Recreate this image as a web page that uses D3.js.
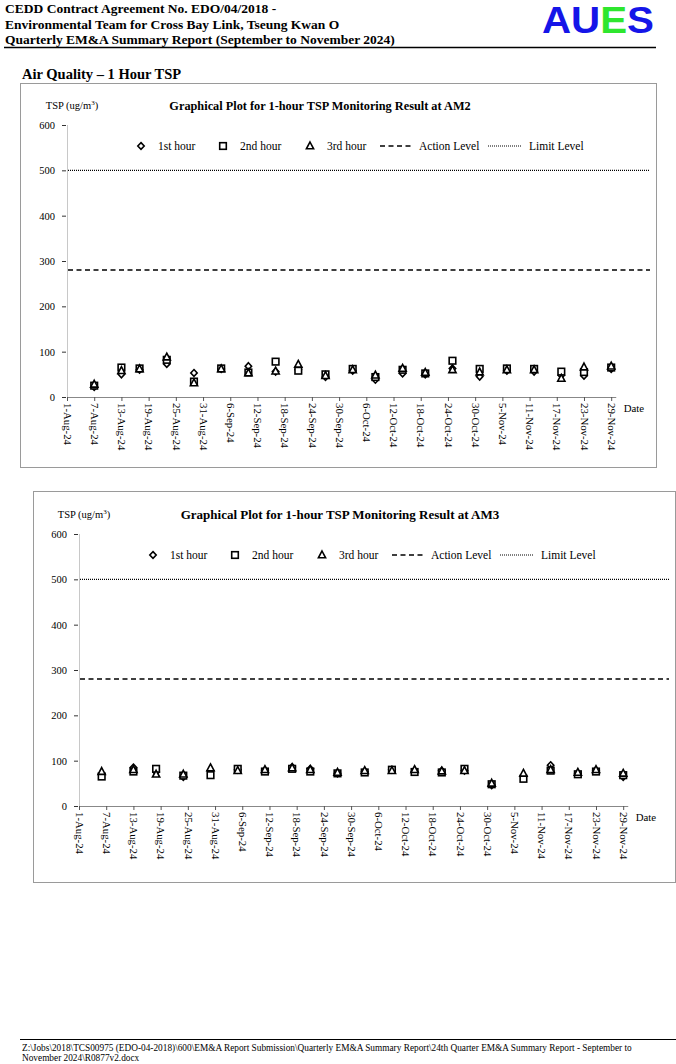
<!DOCTYPE html>
<html>
<head>
<meta charset="utf-8">
<script src="https://cdn.jsdelivr.net/npm/d3@7/dist/d3.min.js"></script>
<style>
  body { margin: 0; background: #fff; }
  svg { display: block; font-family: "Liberation Serif", "Times New Roman", serif; }
</style>
</head>
<body>
<div id="render"></div>
<script>
const parse = d3.timeParse('%d-%b-%Y');

// sampling dates
const datesAM2 = ['7-Aug-2024','13-Aug-2024','17-Aug-2024','23-Aug-2024','29-Aug-2024','4-Sep-2024','10-Sep-2024',
  '16-Sep-2024','21-Sep-2024','27-Sep-2024','3-Oct-2024','8-Oct-2024','14-Oct-2024','19-Oct-2024','25-Oct-2024',
  '31-Oct-2024','6-Nov-2024','12-Nov-2024','18-Nov-2024','23-Nov-2024','29-Nov-2024'];
const datesAM3 = ['6-Aug-2024','13-Aug-2024','18-Aug-2024','24-Aug-2024','30-Aug-2024','5-Sep-2024','11-Sep-2024',
  '17-Sep-2024','21-Sep-2024','27-Sep-2024','3-Oct-2024','9-Oct-2024','14-Oct-2024','20-Oct-2024','25-Oct-2024',
  '31-Oct-2024','7-Nov-2024','13-Nov-2024','19-Nov-2024','23-Nov-2024','29-Nov-2024'];

// AM2, ug/m3
const am2Hour1 = [22, 50, 60, 73, 53, 62, 68, 56, 60, 44, 58, 38, 52, 50, 63, 45, 58, 56, 48, 47, 62];
const am2Hour2 = [25, 65, 63, 82, 34, 63, 54, 78, 58, 50, 62, 44, 60, 52, 80, 62, 63, 62, 56, 55, 65];
const am2Hour3 = [28, 58, 62, 88, 31, 62, 53, 57, 72, 47, 60, 48, 63, 54, 60, 55, 60, 60, 41, 66, 68];

// AM3, ug/m3
const am3Hour1 = [70, 85, 75, 64, 78, 80, 78, 86, 82, 72, 76, 80, 76, 78, 78, 46, 65, 90, 72, 78, 64];
const am3Hour2 = [65, 76, 82, 67, 68, 82, 76, 82, 76, 72, 74, 80, 75, 74, 82, 48, 60, 78, 70, 76, 68];
const am3Hour3 = [76, 80, 70, 70, 84, 78, 80, 84, 80, 74, 78, 78, 80, 77, 78, 50, 72, 80, 74, 80, 72];

const actionLevel = 280;
const limitLevel = 500;
const yTicks = [0, 100, 200, 300, 400, 500, 600];
const legendLabels = ['1st hour', '2nd hour', '3rd hour', 'Action Level', 'Limit Level'];

const W = 676, H = 1064;
const svg = d3.select('#render').append('svg').attr('width', W).attr('height', H);

// ---- page header ----
const hdr = svg.append('g').attr('font-weight', 'bold').attr('font-size', 13.5).attr('fill', '#000');
['CEDD Contract Agreement No. EDO/04/2018 -',
 'Environmental Team for Cross Bay Link, Tseung Kwan O',
 'Quarterly EM&A Summary Report (September to November 2024)'].forEach((t, i)=>{
  hdr.append('text').attr('x', 5).attr('y', 13 + i * 15.5).text(t);
});
const logo = svg.append('text').attr('x', 542).attr('y', 33)
  .attr('font-family', '"Liberation Sans", Arial, sans-serif').attr('font-weight', 'bold')
  .attr('font-size', 36).attr('textLength', 112).attr('lengthAdjust', 'spacingAndGlyphs');
logo.append('tspan').attr('fill', '#1515e8').text('AU');
logo.append('tspan').attr('fill', '#2ee62e').text('E');
logo.append('tspan').attr('fill', '#1515e8').text('S');
svg.append('line').attr('x1', 4).attr('x2', 656).attr('y1', 47.5).attr('y2', 47.5)
  .attr('stroke', '#000').attr('stroke-width', 1.5);

svg.append('text').attr('x', 22).attr('y', 79).attr('font-weight', 'bold').attr('font-size', 14.5)
  .text('Air Quality \u2013 1 Hour TSP');

// ---- footer ----
svg.append('line').attr('x1', 20).attr('x2', 676).attr('y1', 1039.5).attr('y2', 1039.5)
  .attr('stroke', '#000').attr('stroke-width', 1);
const ftr = svg.append('g').attr('font-size', 9.3);
ftr.append('text').attr('x', 22).attr('y', 1051)
  .text('Z:\\Jobs\\2018\\TCS00975 (EDO-04-2018)\\600\\EM&A Report Submission\\Quarterly EM&A Summary Report\\24th Quarter EM&A Summary Report - September to');
ftr.append('text').attr('x', 22).attr('y', 1061).text('November 2024\\R0877v2.docx');

const symbols = {
  diamond: (g, x, y)=>g.append('path').attr('d', `M${x},${y-3.4}L${x+3.2},${y}L${x},${y+3.4}L${x-3.2},${y}Z`),
  square: (g, x, y)=>g.append('rect').attr('x', x-3.3).attr('y', y-3.3).attr('width', 6.6).attr('height', 6.6),
  triangle: (g, x, y)=>g.append('path').attr('d', `M${x},${y-4}L${x+3.6},${y+2.8}L${x-3.6},${y+2.8}Z`),
};

const drawChart = ({box, origin, title, titleX, titleSize, dates, series})=>{
  const g = svg.append('g');
  g.append('rect').attr('x', box.x + 0.5).attr('y', box.y + 0.5).attr('width', box.w).attr('height', box.h)
    .attr('fill', '#fff').attr('stroke', '#9a9a9a').attr('stroke-width', 1);

  const x = d3.scaleTime()
    .domain([parse('1-Aug-2024'), parse('30-Nov-2024')])
    .range([origin.x, origin.x + 121 * 4.535]);
  const y = d3.scaleLinear().domain([0, 600]).range([origin.y, origin.y - 272]);

  g.append('text').attr('x', origin.x + 5).attr('y', origin.y - 288).attr('font-size', 10.5)
    .attr('text-anchor', 'middle').html('TSP (ug/m<tspan baseline-shift="super" font-size="7">3</tspan>)');
  g.append('text').attr('x', titleX).attr('y', origin.y - 287).attr('font-size', titleSize)
    .attr('font-weight', 'bold').attr('text-anchor', 'middle').text(title);

  // y axis
  const ya = g.append('g').attr('transform', `translate(${origin.x},0)`)
    .call(d3.axisLeft(y).tickValues(yTicks).tickSize(4).tickPadding(8));
  ya.select('.domain').attr('stroke', '#c8c8c8').attr('d', `M0.5,${y(600)}V${origin.y}`);
  ya.selectAll('.tick line').attr('stroke', '#333').attr('transform', 'translate(-1,0)');
  ya.selectAll('.tick text').attr('font-family', '"Liberation Serif", serif').attr('font-size', 10.5);

  // x axis
  const ticks = d3.timeDay.range(parse('1-Aug-2024'), parse('30-Nov-2024'), 6);
  const xa = g.append('g').attr('transform', `translate(0,${origin.y})`)
    .call(d3.axisBottom(x).tickValues(ticks).tickFormat(d3.timeFormat('%-d-%b-%y')).tickSize(4).tickSizeOuter(0));
  xa.select('.domain').attr('stroke', '#888');
  xa.selectAll('.tick line').attr('stroke', '#555');
  xa.selectAll('.tick text').attr('font-family', '"Liberation Serif", serif').attr('font-size', 10.8)
    .attr('text-anchor', 'start').attr('transform', 'rotate(90)').attr('x', 6).attr('y', 0).attr('dy', '0.35em');
  g.append('text').attr('x', x.range()[1] + 8).attr('y', origin.y + 15).attr('font-size', 10.8).text('Date');

  // action and limit levels
  const x0 = origin.x + 1, x1 = box.x + box.w - 6;
  g.append('line').attr('x1', x0).attr('x2', x1).attr('y1', y(actionLevel)).attr('y2', y(actionLevel))
    .attr('stroke', '#000').attr('stroke-width', 1.5).attr('stroke-dasharray', '5,3.5');
  g.append('line').attr('x1', x0).attr('x2', x1).attr('y1', y(limitLevel)).attr('y2', y(limitLevel))
    .attr('stroke', '#000').attr('stroke-width', 1.2).attr('stroke-dasharray', '1,1');

  // legend
  const ly = origin.y - 251;
  const lg = g.append('g').attr('font-size', 11.5);
  const lx = origin.x + 74;
  const sym = ['diamond', 'square', 'triangle'];
  const offs = [0, 82, 169];
  sym.forEach((s, i)=>{
    symbols[s](lg, lx + offs[i], ly).attr('fill', '#fff').attr('stroke', '#000').attr('stroke-width', 1.6);
    lg.append('text').attr('x', lx + offs[i] + 17).attr('y', ly + 4).text(legendLabels[i]);
  });
  lg.append('line').attr('x1', lx + 239).attr('x2', lx + 271).attr('y1', ly).attr('y2', ly)
    .attr('stroke', '#000').attr('stroke-width', 1.5).attr('stroke-dasharray', '5,3.5');
  lg.append('text').attr('x', lx + 278).attr('y', ly + 4).text(legendLabels[3]);
  lg.append('line').attr('x1', lx + 347).attr('x2', lx + 381).attr('y1', ly).attr('y2', ly)
    .attr('stroke', '#000').attr('stroke-width', 1.2).attr('stroke-dasharray', '1,1');
  lg.append('text').attr('x', lx + 388).attr('y', ly + 4).text(legendLabels[4]);

  // points
  const pts = g.append('g');
  series.forEach((vals, si)=>{
    vals.forEach((v, i)=>{
      symbols[sym[si]](pts, x(parse(dates[i])), y(v))
        .attr('fill', '#fff').attr('stroke', '#000').attr('stroke-width', 1.6);
    });
  });
};

drawChart({
  box: {x: 20, y: 83, w: 636, h: 384},
  origin: {x: 67, y: 397},
  title: 'Graphical Plot for 1-hour TSP Monitoring Result at AM2',
  titleX: 320,
  titleSize: 12.3,
  dates: datesAM2,
  series: [am2Hour1, am2Hour2, am2Hour3],
});

drawChart({
  box: {x: 33, y: 491, w: 642, h: 391},
  origin: {x: 79, y: 806},
  title: 'Graphical Plot for 1-hour TSP Monitoring Result at AM3',
  titleX: 340,
  titleSize: 13,
  dates: datesAM3,
  series: [am3Hour1, am3Hour2, am3Hour3],
});
</script>
</body>
</html>
